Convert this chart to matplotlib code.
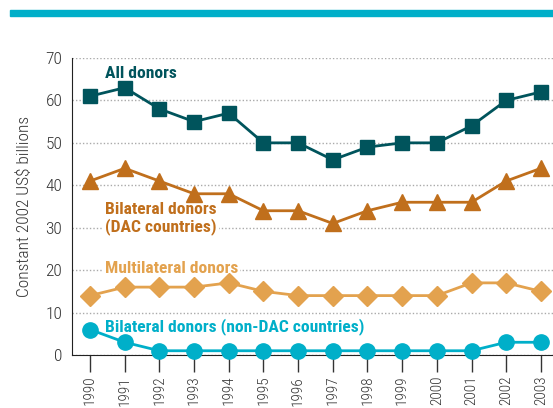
import matplotlib
matplotlib.use("Agg")
import matplotlib.pyplot as plt
from matplotlib.patches import Rectangle

years = list(range(1990, 2004))
all_donors = [61, 63, 58, 55, 57, 50, 50, 46, 49, 50, 50, 54, 60, 62]
bilateral_dac = [41, 44, 41, 38, 38, 34, 34, 31, 34, 36, 36, 36, 41, 44]
multilateral = [14, 16, 16, 16, 17, 15, 14, 14, 14, 14, 14, 17, 17, 15]
bilateral_non_dac = [6, 3, 1, 1, 1, 1, 1, 1, 1, 1, 1, 1, 3, 3]

c_all = "#00545C"
c_dac = "#C06F1C"
c_multi = "#E3A24E"
c_non = "#00AFC9"

plt.rcParams['font.family'] = ['Roboto Condensed', 'DejaVu Sans']

fig = plt.figure(figsize=(5.53, 4.08), dpi=100)
# band across the top
fig.patches.append(Rectangle((10 / 553, 1 - 16 / 408), 1, 6 / 408,
                             transform=fig.transFigure, color=c_non, zorder=0))

ax = fig.add_axes([72 / 553, 1 - 355 / 408, 1 - 72 / 553, (355 - 58) / 408])

ax.plot(years, all_donors, color=c_all, lw=2, marker='s', ms=10, zorder=5, clip_on=False)
ax.plot(years, bilateral_dac, color=c_dac, lw=2, marker='^', ms=11, zorder=5, clip_on=False)
ax.plot(years, multilateral, color=c_multi, lw=2, marker='D', ms=10.5, zorder=5, clip_on=False)
ax.plot(years, bilateral_non_dac, color=c_non, lw=2, marker='o', ms=11, zorder=5, clip_on=False)

box = dict(facecolor='white', edgecolor='none', pad=1.5)
lx = 1990.43
ax.text(lx, 66.4, "All donors", color=c_all, fontsize=12.6, fontweight='bold',
        va='center', ha='left', bbox=box, zorder=4)
ax.text(lx, 32.2, "Bilateral donors\n(DAC countries)", color=c_dac, fontsize=12.6,
        fontweight='bold', va='center', ha='left', linespacing=1.05, bbox=box, zorder=4)
ax.text(lx, 20.5, "Multilateral donors", color=c_multi, fontsize=12.6, fontweight='bold',
        va='center', ha='left', bbox=box, zorder=4)
ax.text(lx, 6.8, "Bilateral donors (non-DAC countries)", color=c_non, fontsize=12.6,
        fontweight='bold', va='center', ha='left', bbox=box, zorder=4)

ax.set_xlim(1989.48, 2003.35)
ax.set_ylim(0, 70)
ax.set_yticks(range(0, 71, 10))
ax.set_xticks(years)
ax.set_xticklabels([str(y) for y in years], rotation=90, fontsize=11, color='#333333',
                   fontweight='light')
for lbl in ax.get_yticklabels():
    lbl.set_fontweight('light')
ax.tick_params(axis='y', length=0, labelsize=12.5, labelcolor='#333333', pad=7)
ax.tick_params(axis='x', length=12, width=1, color='#333333', pad=3)
ax.yaxis.grid(True, linestyle=(0, (1, 1.5)), color='#aaaaaa', lw=1)
ax.set_axisbelow(True)
for s in ['top', 'right']:
    ax.spines[s].set_visible(False)
ax.spines['left'].set_color('#222222')
ax.spines['bottom'].set_color('#222222')
ax.set_ylabel("Constant 2002 US$ billions", fontsize=12.5, color='#333333', labelpad=10,
              fontweight='light')

fig.savefig("out.png", dpi=100)
